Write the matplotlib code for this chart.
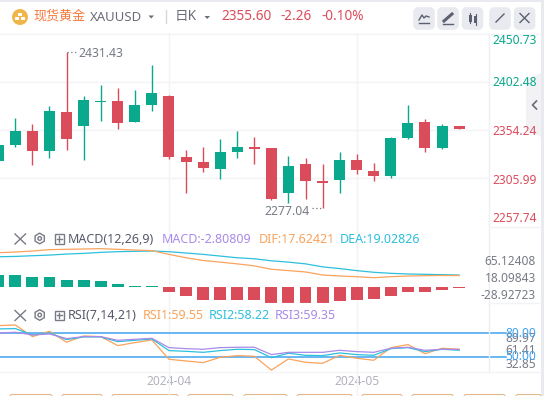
import matplotlib
matplotlib.use("Agg")
import matplotlib.pyplot as plt
from matplotlib.patches import FancyBboxPatch, Polygon, Circle, Rectangle, RegularPolygon

plt.rcParams['font.family'] = ['Noto Sans', 'Noto Sans CJK SC', 'DejaVu Sans']

# candles, oldest first
opens = [2323.3, 2339.2, 2353.1, 2333.3, 2372.0, 2358.1, 2382.0, 2382.95, 2362.1, 2379.0,
         2387.9, 2327.3, 2322.4, 2315.4, 2332.3, 2337.3, 2336.3, 2291.6, 2320.4, 2303.5,
         2304.5, 2324.3, 2313.4, 2308.4, 2346.2, 2362.1, 2336.3, 2358.1]
closes = [2339.2, 2353.1, 2333.3, 2373.0, 2345.2, 2383.9, 2382.95, 2361.1, 2379.0, 2390.9,
          2327.3, 2322.4, 2316.4, 2332.3, 2337.3, 2335.3, 2285.6, 2318.4, 2303.5, 2301.5,
          2324.3, 2314.4, 2308.4, 2346.2, 2361.1, 2336.3, 2358.1, 2355.60]
highs = [2339.2, 2366.1, 2360.1, 2378.0, 2431.43, 2387.9, 2398.8, 2395.9, 2393.9, 2418.7,
         2388.9, 2334.3, 2337.3, 2345.2, 2353.1, 2347.2, 2336.3, 2328.3, 2326.3, 2320.4,
         2332.3, 2330.3, 2321.4, 2347.2, 2379.0, 2365.1, 2360.1, 2358.1]
lows = [2323.3, 2337.3, 2319.4, 2326.3, 2334.3, 2324.3, 2363.1, 2355.1, 2362.1, 2373.0,
        2325.3, 2291.6, 2312.4, 2305.5, 2326.3, 2320.4, 2284.6, 2281.6, 2285.6, 2277.04,
        2291.6, 2310.4, 2303.5, 2306.5, 2345.2, 2332.3, 2335.3, 2355.1]

macd_hist = [35.0, 35.0, 29.5, 29.5, 21.2, 21.2, 18.4, 10.1, 4.6, 4.6,
             -12.0, -23.0, -34.1, -34.1, -34.1, -34.1, -42.4, -42.4, -42.4, -42.4,
             -36.9, -34.1, -31.3, -23.0, -12.0, -12.0, -6.5, -2.80809]
dif = [80.1, 81.9, 84.7, 88.4, 89.3, 90.2, 91.1, 89.3, 87.4, 85.6,
       75.5, 66.2, 58.9, 54.3, 49.6, 44.1, 34.9, 31.2, 27.5, 19.2,
       16.5, 14.6, 11.8, 14.6, 16.5, 17.4, 17.9, 17.62421]
dea = [69.0, 69.9, 71.8, 73.6, 76.4, 78.2, 81.0, 82.8, 83.8, 84.7,
       82.8, 79.2, 75.5, 70.9, 66.2, 63.5, 58.0, 54.3, 49.6, 41.4,
       36.7, 31.2, 26.6, 23.8, 22.0, 21.1, 20.1, 19.02826]

rsi1 = [89.8, 90.7, 75.7, 82.6, 68.5, 76.6, 75.7, 64.2, 68.0, 71.5,
        46.7, 44.5, 42.4, 49.2, 51.4, 50.5, 32.85, 47.1, 42.8, 41.5,
        51.8, 48.0, 45.4, 61.6, 65.5, 53.9, 60.8, 59.55]
rsi2 = [85.6, 86.0, 77.9, 80.4, 71.9, 75.3, 75.3, 69.3, 71.0, 72.7,
        57.8, 56.9, 55.6, 57.8, 59.5, 59.1, 48.8, 54.4, 51.8, 51.4,
        54.8, 52.7, 51.8, 60.3, 61.6, 56.5, 59.5, 58.22]
rsi3 = [80.4, 81.3, 77.9, 79.1, 73.2, 75.7, 75.7, 71.0, 72.3, 73.6,
        61.6, 60.3, 59.5, 61.6, 62.1, 62.1, 52.7, 55.6, 55.6, 55.6,
        58.2, 56.5, 55.6, 60.8, 62.1, 58.2, 59.5, 59.35]

price_ticks = [2257.74, 2305.99, 2354.24, 2402.48, 2450.73]
date_index = [10, 21]
date_labels = ['2024-04', '2024-05']

GREEN = '#0aa88d'
RED = '#db4c5b'
GRID = '#f2f3f6'
GRAY = '#787b86'
ORANGE = '#f9a35c'
CYAN = '#2dc0dc'
PURPLE = '#a98ae8'
BLUE = '#3fa3f0'

W, H = 544, 396
fig = plt.figure(figsize=(W / 100, H / 100), dpi=100)
xs = list(range(len(opens)))
XLIM = (0.1, 28.75)


def pane(top, bottom):
    ax = fig.add_axes([0, 1 - bottom / H, 489 / W, (bottom - top) / H])
    ax.set_xlim(*XLIM)
    for s in ['top', 'left', 'right']:
        ax.spines[s].set_visible(False)
    ax.spines['bottom'].set_color(GRID)
    ax.set_xticks(date_index)
    ax.set_xticklabels([])
    ax.grid(axis='x', color=GRID, lw=1)
    ax.tick_params(length=0, left=False, labelleft=False, bottom=False)
    ax.set_axisbelow(True)
    return ax


# price pane
ax = pane(33, 227)
ax.set_ylim(price_ticks[0], price_ticks[-1])
ax.set_yticks(price_ticks[1:-1])
ax.grid(axis='y', color=GRID, lw=1)
colors = [GREEN if c >= o else RED for o, c in zip(opens, closes)]
ax.vlines(xs, lows, highs, colors=colors, lw=1)
ax.bar(xs, [abs(c - o) for o, c in zip(opens, closes)], bottom=[min(o, c) for o, c in zip(opens, closes)],
       width=0.645, color=colors)
ax.plot([4.05, 4.6], [2431.43, 2431.43], color=GRAY, lw=0.9, ls=(0, (1, 2)))
ax.plot([18.4, 18.95], [2277.04, 2277.04], color=GRAY, lw=0.9, ls=(0, (1, 2)))
ax.annotate('2431.43', (4.7, 2431.43), xytext=(0, -1), textcoords='offset points',
            color=GRAY, fontsize=8.8, va='center', ha='left')
ax.annotate('2277.04', (18.25, 2277.04), xytext=(0, -3), textcoords='offset points',
            color=GRAY, fontsize=8.8, va='center', ha='right')

# macd pane, histogram and lines sit on their own scales
ax2 = pane(227, 303)
ax2.set_ylim(-42.4, 165)
ax2.bar(xs, macd_hist, width=0.7, color=[GREEN if v > 0 else RED for v in macd_hist])
ax2l = ax2.twinx()
ax2l.set_ylim(-57.2, 150.2)
ax2l.axis('off')
ax2l.plot(xs, dea, color=CYAN, lw=0.9)
ax2l.plot(xs, dif, color=ORANGE, lw=0.9)

# rsi pane
ax3 = pane(303, 372.3)
ax3.set_ylim(30, 118.8)
ax3.axhline(80, color=BLUE, lw=1.1, xmax=1.035, clip_on=False)
ax3.axhline(50, color=BLUE, lw=1.1, xmax=1.035, clip_on=False)
ax3.plot(xs, rsi1, color=ORANGE, lw=0.9)
ax3.plot(xs, rsi2, color=CYAN, lw=0.9)
ax3.plot(xs, rsi3, color=PURPLE, lw=0.9)
ax3.set_xticklabels(date_labels, color='#b2b3bd', fontsize=8.6)
ax3.tick_params(axis='x', labelbottom=True, pad=2)

# page furniture in pixel coordinates
ui = fig.add_axes([0, 0, 1, 1], facecolor='none')
ui.set_xlim(0, W)
ui.set_ylim(H, 0)
ui.axis('off')

ui.add_patch(Rectangle((0, 0), W, 2, color='#e8eaef', lw=0))
ui.add_patch(Rectangle((541, 0), 3, H, color='#e8eaef', lw=0))
ui.plot([0, 541], [34, 34], color=GRID, lw=1)
ui.plot([489, 489], [34, 372], color='#eeeff2', lw=1)
ui.plot([489, 541], [227, 227], color=GRID, lw=1)
ui.plot([489, 541], [303, 303], color=GRID, lw=1)
ui.plot([489, 541], [372.3, 372.3], color=GRID, lw=1)
for vx in [169.3, 357.3]:
    ui.plot([vx, vx], [372, 396], color=GRID, lw=1)

# header
ui.add_patch(Circle((20, 17), 8, color='#f1b64a', lw=0))
for bx, by in [(20, 14.5), (17, 18.5), (23, 18.5)]:
    ui.add_patch(Rectangle((bx - 2.3, by - 1.5), 4.6, 3, color='white', lw=0))
ui.text(33.5, 16.5, '现货黄金', color='#f47a3c', fontsize=9.4, va='center', ha='left')
ui.text(90, 17.5, 'XAUUSD', color='#6b6d78', fontsize=9.5, va='center', ha='left')
ui.add_patch(Polygon([[148.5, 15.5], [154, 15.5], [151.2, 18.5]], color='#6b6d78', lw=0))
ui.plot([165.6, 165.6], [10, 23], color='#d5d7dd', lw=1)
ui.text(175, 16.5, '日K', color='#6b6d78', fontsize=9.8, va='center', ha='left')
ui.add_patch(Polygon([[204.5, 16], [210, 16], [207.2, 19]], color='#6b6d78', lw=0))
ui.text(221, 16.5, '2355.60', color=RED, fontsize=9.8, fontweight='bold', va='center', ha='left')
ui.text(280.5, 16.5, '-2.26', color=RED, fontsize=9.8, fontweight='bold', va='center', ha='left')
ui.text(322, 16.5, '-0.10%', color=RED, fontsize=9.8, fontweight='bold', va='center', ha='left')

for bx in [414, 438, 462.5, 490, 514.6]:
    ui.add_patch(FancyBboxPatch((bx + 2, 10), 16, 17, boxstyle='round,pad=0,rounding_size=2',
                                fc='#e8eaf0', ec='#e8eaf0', lw=4))
ICON = '#5d6070'
ui.plot([419, 422, 424, 426, 429], [20, 15, 18, 16, 17], color=ICON, lw=1)
ui.plot([419, 429], [23, 23], color=ICON, lw=1)
ui.plot([444, 452], [21, 14], color=ICON, lw=2.2)
ui.plot([443, 453], [23.5, 23.5], color=ICON, lw=1)
ui.add_patch(Rectangle((468.5, 14.5), 3, 7, color=ICON, lw=0))
ui.add_patch(Rectangle((474, 16), 3, 7, color=ICON, lw=0))
ui.plot([470, 470], [12.5, 23], color=ICON, lw=0.8)
ui.plot([475.5, 475.5], [14, 25], color=ICON, lw=0.8)
ui.plot([496, 504], [22, 14], color=ICON, lw=1)
ui.plot([520, 529], [13.5, 22.5], color=ICON, lw=1)
ui.plot([520, 529], [22.5, 13.5], color=ICON, lw=1)

# right axis labels
for txt, y, c in [('2450.73', 41, GREEN), ('2402.48', 82.5, GREEN), ('2354.24', 131.5, RED),
                  ('2305.99', 180.5, RED), ('2257.74', 219, RED)]:
    ui.text(492, y, txt, color=c, fontsize=8.6, va='center', ha='left')
ui.add_patch(Polygon([[541, 73], [526, 80], [526, 130], [541, 137]], color='#eeeef2', alpha=0.75, lw=0))
ui.plot([536.5, 532.5, 536.5], [101, 105, 109], color='#6b6d78', lw=1.2)

for txt, y in [('65.12408', 261.7), ('18.09843', 278.7), ('-28.92723', 295.7),
               ('89.97', 338.3), ('61.41', 350), ('32.85', 364.3)]:
    ui.text(536, y, txt, color=GRAY, fontsize=8.6, va='center', ha='right')
ui.text(536, 333.5, '80.00', color=BLUE, fontsize=8.6, va='center', ha='right')
ui.text(536, 357, '50.00', color=BLUE, fontsize=8.6, va='center', ha='right')


# indicator title rows
def controls(y):
    ui.plot([15, 25.5], [y - 5, y + 5], color=GRAY, lw=1)
    ui.plot([15, 25.5], [y + 5, y - 5], color=GRAY, lw=1)
    ui.add_patch(RegularPolygon((39.7, y - 0.5), 6, radius=5.3, fc='none', ec=GRAY, lw=1))
    ui.add_patch(Circle((39.7, y - 0.5), 1.8, fc='none', ec=GRAY, lw=1))
    ui.add_patch(Rectangle((54.5, y - 5), 9.5, 9.5, fc='none', ec=GRAY, lw=1))
    ui.plot([56.5, 62], [y - 0.2, y - 0.2], color=GRAY, lw=1)
    ui.plot([59.2, 59.2], [y - 3, y + 2.5], color=GRAY, lw=1)


controls(239)
controls(315.5)
for txt, x, c in [('MACD(12,26,9)', 68, '#55586a'), ('MACD:-2.80809', 162, PURPLE),
                  ('DIF:17.62421', 259, ORANGE), ('DEA:19.02826', 340, CYAN)]:
    ui.text(x, 239.5, txt, color=c, fontsize=9, va='center', ha='left')
for txt, x, c in [('RSI(7,14,21)', 68, '#55586a'), ('RSI1:59.55', 143, ORANGE),
                  ('RSI2:58.22', 209, CYAN), ('RSI3:59.35', 275, PURPLE)]:
    ui.text(x, 315.5, txt, color=c, fontsize=9, va='center', ha='left')

# tops of the buttons cut off by the bottom edge
for x0, x1 in [(10, 52), (62, 102), (112, 178), (188, 233), (244, 287), (297, 352),
               (362, 402), (412, 453), (464, 505), (516, 541)]:
    ui.add_patch(FancyBboxPatch((x0, 394.5), x1 - x0, 6, boxstyle='round,pad=0,rounding_size=2',
                                fc='white', ec='#e3b98c', lw=0.8))
ui.set_xlim(0, W)
ui.set_ylim(H, 0)

fig.savefig('out.png', dpi=100)
